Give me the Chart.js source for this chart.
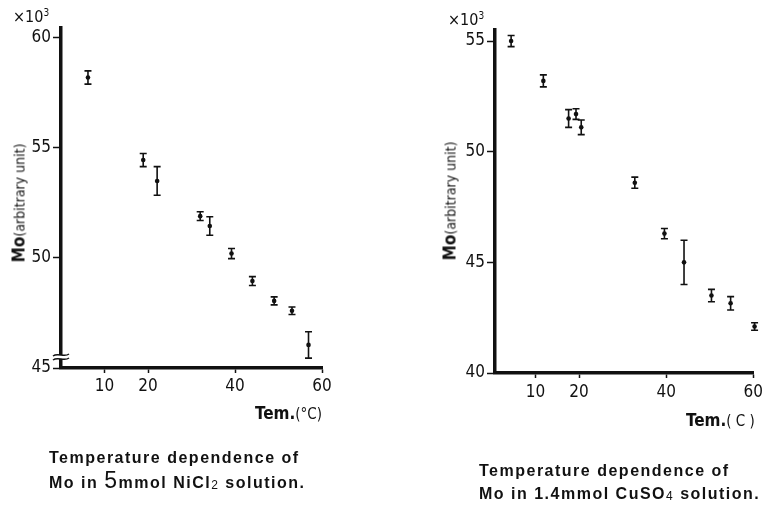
<!DOCTYPE html>
<html lang="en">
<head>
  <meta charset="UTF-8">
  <title>Temperature dependence of Mo</title>
  <script src="https://cdn.jsdelivr.net/npm/chart.js"></script>
  <style>
    body {
      margin: 0;
      background: #fff;
    }
    #page {
      position: relative;
      width: 767px;
      height: 511px;
      overflow: hidden;
      color: #111;
      font-family: "Liberation Sans", Arial, sans-serif;
    }
    canvas {
      position: absolute;
      top: 0;
    }
    #leftChart { left: 0; }
    #rightChart { left: 383px; }
    .lbl {
      position: absolute;
      white-space: nowrap;
      line-height: 1;
    }
    .mult {
      font-family: "Liberation Sans Narrow", "DejaVu Sans Condensed", sans-serif;
      font-size: 16px;
    }
    .ytitle {
      transform: translate(-50%, -50%) rotate(-90deg);
      font-family: "Liberation Sans Narrow", "DejaVu Sans Condensed", sans-serif;
      font-size: 14px;
    }
    .ytitle b { font-size: 17px; }
    .xtitle {
      font-family: "Liberation Sans Narrow", "DejaVu Sans Condensed", sans-serif;
      font-size: 15px;
    }
    .xtitle b { font-size: 17px; }
    .caption {
      font-size: 16px;
      font-weight: bold;
      letter-spacing: 1.5px;
      line-height: 23px;
    }
    .caption .big { font-size: 23px; font-weight: normal; }
    .caption sub { font-size: 12px; vertical-align: -1px; font-weight: normal; }
  </style>
</head>
<body>
<div id="page">
  <canvas id="leftChart" width="383" height="511"></canvas>
  <canvas id="rightChart" width="384" height="511"></canvas>

  <div class="lbl mult" style="left:13px; top:8px;">×10<sup style="font-size:10px">3</sup></div>
  <div class="lbl mult" style="left:448px; top:11px;">×10<sup style="font-size:10px">3</sup></div>

  <div class="lbl ytitle" style="left:19px; top:203px;"><b>Mo</b>(arbitrary unit)</div>
  <div class="lbl ytitle" style="left:450px; top:201px;"><b>Mo</b>(arbitrary unit)</div>

  <div class="lbl xtitle" style="left:255px; top:405px;"><b>Tem.</b>(°C)</div>
  <div class="lbl xtitle" style="left:686px; top:412px;"><b>Tem.</b>( C )</div>

  <div class="lbl caption" style="left:49px; top:446px;">Temperature dependence of<br>Mo in <span class="big">5</span>mmol NiCl<sub>2</sub> solution.</div>
  <div class="lbl caption" style="left:479px; top:459px;">Temperature dependence of<br>Mo in 1.4mmol CuSO<sub>4</sub> solution.</div>
</div>

<script>
  // 5 mmol NiCl2 series (temperature in °C, Mo in units of 10^3)
  const niTemp = [6.2, 18.9, 22.1, 32.0, 34.2, 39.2, 44.0, 49.0, 53.1, 56.9];
  const niMo   = [58.2, 54.45, 53.5, 51.9, 51.45, 50.2, 48.95, 48.05, 47.6, 46.05];
  const niErr  = [0.3, 0.3, 0.65, 0.2, 0.42, 0.23, 0.2, 0.18, 0.17, 0.6];

  // 1.4 mmol CuSO4 series
  const cuTemp = [4.4, 11.8, 17.6, 19.3, 20.5, 32.8, 39.6, 44.1, 50.4, 54.8, 60.3];
  const cuMo   = [55.0, 53.2, 51.5, 51.7, 51.1, 48.6, 46.3, 45.0, 43.5, 43.15, 42.1];
  const cuErr  = [0.25, 0.27, 0.4, 0.24, 0.33, 0.25, 0.23, 1.0, 0.28, 0.3, 0.17];

  const xTicks = [10, 20, 40, 60];
  const niYTicks = [45, 50, 55, 60];
  const cuYTicks = [40, 45, 50, 55];

  const INK = '#111';
  const tickFont = { family: '"Liberation Sans Narrow", "DejaVu Sans Condensed", sans-serif', size: 17 };

  // vertical error bars with caps, drawn through the chart scales
  const errorBars = {
    id: 'errorBars',
    afterDatasetsDraw(chart, args, opts) {
      const { ctx, scales: { x, y } } = chart;
      const xs = opts.xs, ys = opts.ys, es = opts.errs;
      ctx.save();
      ctx.strokeStyle = INK;
      ctx.lineWidth = 1.6;
      for (let i = 0; i < xs.length; i++) {
        const px = x.getPixelForValue(xs[i]);
        const top = y.getPixelForValue(ys[i] + es[i]);
        const bot = y.getPixelForValue(ys[i] - es[i]);
        ctx.beginPath();
        ctx.moveTo(px, top); ctx.lineTo(px, bot);
        ctx.moveTo(px - 3.5, top); ctx.lineTo(px + 3.5, top);
        ctx.moveTo(px - 3.5, bot); ctx.lineTo(px + 3.5, bot);
        ctx.stroke();
      }
      ctx.restore();
    }
  };

  // small "≈" break mark on the bottom of the y axis
  const axisBreak = {
    id: 'axisBreak',
    afterDraw(chart, args, opts) {
      if (!opts.show) return;
      const { ctx, scales: { x, y } } = chart;
      const ax = x.left;
      const by = y.getPixelForValue(opts.at);
      ctx.save();
      ctx.fillStyle = '#fff';
      ctx.fillRect(ax - 4, by - 2, 8, 4);
      ctx.strokeStyle = INK;
      ctx.lineWidth = 1.5;
      [-2, 2].forEach(dy => {
        ctx.beginPath();
        ctx.moveTo(ax - 8, by + dy + 1);
        ctx.bezierCurveTo(ax - 3, by + dy - 3, ax + 3, by + dy + 3, ax + 8, by + dy - 1);
        ctx.stroke();
      });
      ctx.restore();
    }
  };

  function makeChart(id, xs, ys, es, cfg) {
    return new Chart(document.getElementById(id), {
      type: 'scatter',
      data: {
        datasets: [{
          data: xs.map((t, i) => ({ x: t, y: ys[i] })),
          pointRadius: 2.3,
          pointBackgroundColor: INK,
          pointBorderWidth: 0,
          clip: false
        }]
      },
      options: {
        responsive: false,
        animation: false,
        layout: { padding: cfg.padding },
        plugins: {
          legend: { display: false },
          tooltip: { enabled: false },
          errorBars: { xs: xs, ys: ys, errs: es },
          axisBreak: { show: cfg.breakAt != null, at: cfg.breakAt }
        },
        scales: {
          x: {
            type: 'linear',
            min: cfg.xMin,
            max: 60,
            afterBuildTicks: s => { s.ticks = xTicks.map(v => ({ value: v })); },
            afterFit: s => { s.height = 30; },
            grid: { drawOnChartArea: false, tickLength: 5, tickColor: INK, tickWidth: 1.5 },
            border: { display: true, color: INK, width: 3.5 },
            ticks: { color: INK, font: tickFont, padding: cfg.xPad, maxRotation: 0 }
          },
          y: {
            type: 'linear',
            min: cfg.yMin,
            max: cfg.yMax,
            afterBuildTicks: s => { s.ticks = cfg.yTicks.map(v => ({ value: v })); },
            afterFit: s => { s.width = cfg.yWidth; },
            grid: { drawOnChartArea: false, tickLength: 8, tickColor: INK, tickWidth: 1.5 },
            border: { display: true, color: INK, width: 3.5 },
            ticks: { color: INK, font: tickFont, padding: 2 }
          }
        }
      },
      plugins: [errorBars, axisBreak]
    });
  }

  makeChart('leftChart', niTemp, niMo, niErr, {
    xMin: 0, yMin: 45, yMax: 60.45, yTicks: niYTicks, yWidth: 61, xPad: 3,
    padding: { left: 0, top: 28, right: 61, bottom: 113 },
    breakAt: 45.5
  });

  makeChart('rightChart', cuTemp, cuMo, cuErr, {
    xMin: 0.7, yMin: 40, yMax: 55.5, yTicks: cuYTicks, yWidth: 112, xPad: 4,
    padding: { left: 0, top: 30, right: 13, bottom: 108 },
    breakAt: null
  });
</script>
</body>
</html>
